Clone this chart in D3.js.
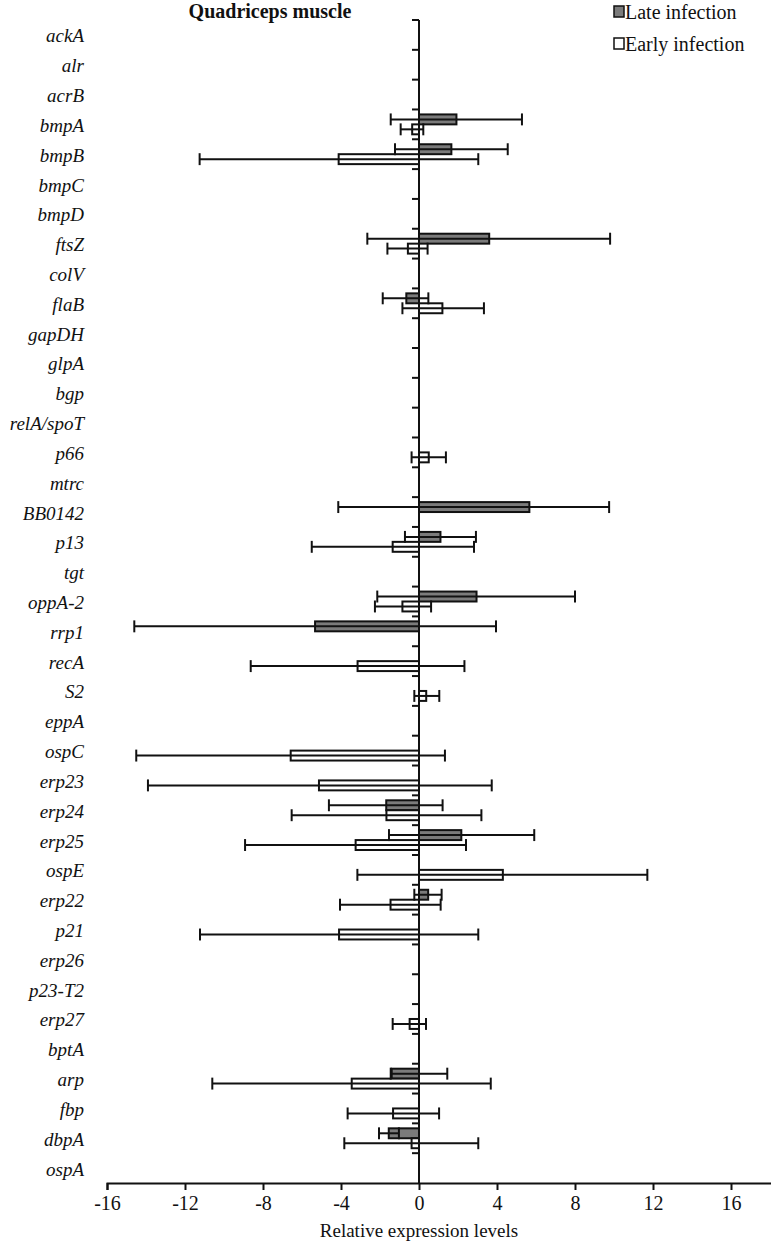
<!DOCTYPE html>
<html>
<head>
<meta charset="utf-8">
<script src="https://cdn.jsdelivr.net/npm/d3@7"></script>
<style>
  html, body { margin: 0; padding: 0; background: #fff; }
  svg { display: block; }
</style>
</head>
<body>
<svg id="chart" width="771" height="1249"></svg>
<script>
const categories = ["ackA","alr","acrB","bmpA","bmpB","bmpC","bmpD","ftsZ","colV","flaB",
  "gapDH","glpA","bgp","relA/spoT","p66","mtrc","BB0142","p13","tgt","oppA-2",
  "rrp1","recA","S2","eppA","ospC","erp23","erp24","erp25","ospE","erp22",
  "p21","erp26","p23-T2","erp27","bptA","arp","fbp","dbpA","ospA"];

const seriesNames = ["Late infection", "Early infection"];

// Late infection: value, lower error bound, upper error bound
const lateVal = [null,null,null,1.92,1.66,null,null,3.6,null,-0.65,
  null,null,null,null,null,null,5.66,1.1,null,2.95,
  -5.33,null,null,null,null,null,-1.68,2.17,null,0.47,
  null,null,null,null,null,-1.4,null,-1.55,null];
const lateLo = [null,null,null,-1.45,-1.23,null,null,-2.65,null,-1.86,
  null,null,null,null,null,null,-4.14,-0.72,null,-2.14,
  -14.6,null,null,null,null,null,-4.62,-1.54,null,-0.24,
  null,null,null,null,null,-1.45,null,-2.05,null];
const lateHi = [null,null,null,5.28,4.55,null,null,9.8,null,0.48,
  null,null,null,null,null,null,9.75,2.92,null,8.0,
  3.95,null,null,null,null,null,1.21,5.91,null,1.16,
  null,null,null,null,null,1.45,null,-1.03,null];

// Early infection: value, lower error bound, upper error bound
const earlyVal = [null,null,null,-0.35,-4.12,null,null,-0.57,null,1.2,
  null,null,null,null,0.5,null,null,-1.35,null,-0.85,
  null,-3.15,0.37,null,-6.58,-5.13,-1.67,-3.25,4.3,-1.46,
  -4.1,null,null,-0.48,null,-3.45,-1.33,-0.38,null];
const earlyLo = [null,null,null,-0.94,-11.25,null,null,-1.62,null,-0.85,
  null,null,null,null,-0.38,null,null,-5.5,null,-2.26,
  null,-8.63,-0.24,null,-14.5,-13.9,-6.53,-8.92,-3.16,-4.05,
  -11.23,null,null,-1.35,null,-10.6,-3.66,-3.83,null];
const earlyHi = [null,null,null,0.22,3.04,null,null,0.44,null,3.33,
  null,null,null,null,1.38,null,null,2.82,null,0.62,
  null,2.33,1.04,null,1.33,3.73,3.2,2.41,11.71,1.11,
  3.04,null,null,0.36,null,3.68,1.03,3.04,null];

const xTicks = [-16,-12,-8,-4,0,4,8,12,16];
const xDomain = [-16, 20];

const colors = { "Late infection": "#7b7b7b", "Early infection": "#ffffff" };
const serif = "'Liberation Serif','Times New Roman',Times,serif";

const svg = d3.select("#chart");

const x = d3.scaleLinear().domain(xDomain).range([107, 809]);
const y = d3.scaleBand().domain(categories).range([20, 1183]).padding(0);
const ySub = d3.scaleBand().domain(seriesNames).range([0, y.bandwidth()]).paddingInner(0).paddingOuter(0.5);

const rows = [];
categories.forEach((c, i) => {
  if (lateVal[i] !== null) rows.push({cat: c, s: "Late infection", v: lateVal[i], lo: lateLo[i], hi: lateHi[i]});
  if (earlyVal[i] !== null) rows.push({cat: c, s: "Early infection", v: earlyVal[i], lo: earlyLo[i], hi: earlyHi[i]});
});

// bars
svg.append("g").selectAll("rect").data(rows).join("rect")
  .attr("x", d => x(Math.min(0, d.v)))
  .attr("width", d => Math.abs(x(d.v) - x(0)))
  .attr("y", d => y(d.cat) + ySub(d.s))
  .attr("height", ySub.bandwidth())
  .attr("fill", d => colors[d.s])
  .attr("stroke", "#111")
  .attr("stroke-width", 2);

// error bars
const eg = svg.append("g").attr("stroke", "#111").attr("stroke-width", 2);
rows.forEach(d => {
  const cy = y(d.cat) + ySub(d.s) + ySub.bandwidth() / 2;
  const h = ySub.bandwidth() / 2 + 1;
  eg.append("line").attr("x1", x(d.lo)).attr("x2", x(d.hi)).attr("y1", cy).attr("y2", cy);
  eg.append("line").attr("x1", x(d.lo)).attr("x2", x(d.lo)).attr("y1", cy - h).attr("y2", cy + h);
  eg.append("line").attr("x1", x(d.hi)).attr("x2", x(d.hi)).attr("y1", cy - h).attr("y2", cy + h);
});

// vertical category axis at x = 0
const yAxisG = svg.append("g").attr("transform", `translate(${x(0)},0)`);
yAxisG.append("line").attr("x1", 0).attr("x2", 0).attr("y1", 20).attr("y2", 1183)
  .attr("stroke", "#111").attr("stroke-width", 2);
const boundaries = categories.map(c => y(c));
yAxisG.selectAll("line.tk").data(boundaries).join("line").attr("class", "tk")
  .attr("x1", -7).attr("x2", 0).attr("y1", d => d).attr("y2", d => d)
  .attr("stroke", "#111").attr("stroke-width", 2);

// category labels
svg.append("g").selectAll("text").data(categories).join("text")
  .attr("x", 84)
  .attr("y", d => y(d) + y.bandwidth() / 2 + 1)
  .attr("text-anchor", "end")
  .attr("dominant-baseline", "central")
  .attr("font-family", serif)
  .attr("font-style", "italic")
  .attr("font-size", 19)
  .attr("fill", "#111")
  .text(d => d);

// x axis
const xAxis = d3.axisBottom(x).tickValues(xTicks).tickSize(7).tickPadding(6).tickFormat(d => String(d));
const xg = svg.append("g").attr("transform", "translate(0,1183)").call(xAxis);
xg.select(".domain").attr("stroke", "#111").attr("stroke-width", 2);
xg.selectAll(".tick line").attr("stroke", "#111").attr("stroke-width", 2);
xg.selectAll(".tick text").attr("font-family", serif).attr("font-size", 20).attr("fill", "#111");

svg.append("text")
  .attr("x", x(0)).attr("y", 1237)
  .attr("text-anchor", "middle")
  .attr("font-family", serif).attr("font-size", 19).attr("fill", "#111")
  .text("Relative expression levels");

// title
svg.append("text")
  .attr("x", 270).attr("y", 18)
  .attr("text-anchor", "middle")
  .attr("font-family", serif).attr("font-weight", "bold").attr("font-size", 20).attr("fill", "#111")
  .text("Quadriceps muscle");

// legend
const lg = svg.append("g");
seriesNames.forEach((s, i) => {
  const ly = 12 + i * 32;
  lg.append("rect").attr("x", 614).attr("y", ly - 6).attr("width", 10).attr("height", 11)
    .attr("fill", colors[s]).attr("stroke", "#111").attr("stroke-width", 1.5);
  lg.append("text").attr("x", 625).attr("y", ly).attr("dominant-baseline", "central")
    .attr("font-family", serif).attr("font-size", 20).attr("fill", "#111").text(s);
});
</script>
</body>
</html>
